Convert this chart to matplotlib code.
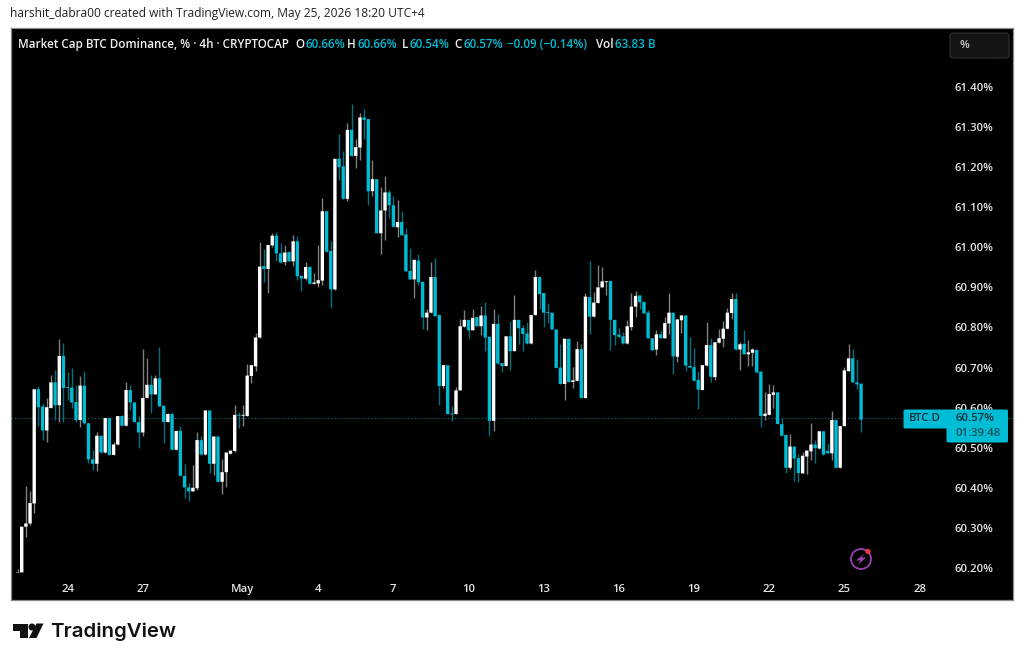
import numpy as np
import matplotlib
matplotlib.use("Agg")
import matplotlib.pyplot as plt
from matplotlib.patches import Rectangle, FancyBboxPatch, Circle, Polygon
from matplotlib.transforms import Affine2D

opens = [60.189,
 60.189,60.303,60.311,60.361,60.646,60.603,60.543,60.599,60.663,60.606,
 60.729,60.651,60.650,60.614,60.569,60.655,60.561,60.471,60.460,60.530,
 60.488,60.574,60.482,60.508,60.579,60.555,60.644,60.613,60.564,60.538,
 60.624,60.657,60.633,60.673,60.605,60.564,60.584,60.495,60.542,60.430,
 60.401,60.391,60.399,60.519,60.483,60.593,60.460,60.528,60.415,60.439,
 60.485,60.492,60.582,60.580,60.579,60.679,60.703,60.775,60.953,60.946,
 61.005,61.029,60.985,60.963,60.988,60.965,61.015,60.929,60.922,60.951,
 60.909,60.910,60.917,61.090,60.991,60.895,61.221,61.202,61.121,61.293,
 61.228,61.249,61.324,61.320,61.140,61.170,61.035,61.092,61.137,61.105,
 61.050,61.063,61.032,60.941,60.920,60.967,60.914,60.825,60.837,60.926,
 60.831,60.654,60.706,60.585,60.584,60.643,60.802,60.819,60.793,60.826,
 60.803,60.830,60.777,60.567,60.809,60.711,60.704,60.778,60.741,60.819,
 60.799,60.785,60.760,60.831,60.926,60.886,60.838,60.837,60.795,60.700,
 60.659,60.772,60.664,60.667,60.746,60.624,60.876,60.827,60.861,60.900,
 60.913,60.916,60.819,60.782,60.778,60.760,60.801,60.852,60.880,60.864,
 60.837,60.773,60.745,60.783,60.773,60.810,60.837,60.727,60.818,60.830,
 60.704,60.701,60.669,60.644,60.705,60.756,60.676,60.762,60.772,60.797,
 60.836,60.871,60.745,60.759,60.733,60.737,60.744,60.690,60.579,60.582,
 60.632,60.638,60.559,60.532,60.450,60.503,60.474,60.436,60.478,60.491,
 60.508,60.498,60.541,60.492,60.486,60.569,60.450,60.554,60.691,60.723,
 60.663,60.66]
highs = [60.197,
 60.303,60.405,60.391,60.646,60.653,60.611,60.623,60.682,60.694,60.771,
 60.761,60.690,60.698,60.657,60.679,60.692,60.561,60.495,60.538,60.530,
 60.574,60.574,60.515,60.579,60.582,60.664,60.657,60.613,60.578,60.746,
 60.725,60.682,60.682,60.752,60.605,60.586,60.590,60.542,60.553,60.459,
 60.411,60.457,60.540,60.528,60.593,60.593,60.528,60.528,60.471,60.488,
 60.493,60.607,60.590,60.607,60.708,60.706,60.787,61.014,60.995,61.006,
 61.035,61.039,61.011,61.005,60.991,61.030,61.029,60.929,60.963,60.953,
 60.937,61.005,61.124,61.090,61.016,61.221,61.282,61.241,61.311,61.357,
 61.270,61.336,61.344,61.320,61.218,61.170,61.150,61.178,61.143,61.128,
 61.118,61.091,61.047,60.999,60.969,60.983,60.914,60.846,60.963,60.974,
 60.833,60.706,60.706,60.604,60.652,60.822,60.843,60.819,60.845,60.826,
 60.854,60.864,60.777,60.847,60.833,60.711,60.778,60.817,60.881,60.819,
 60.806,60.814,60.831,60.943,60.926,60.886,60.860,60.837,60.795,60.758,
 60.772,60.772,60.702,60.766,60.760,60.885,60.966,60.889,60.956,60.950,
 60.915,60.916,60.819,60.798,60.789,60.818,60.885,60.892,60.880,60.864,
 60.843,60.773,60.793,60.793,60.827,60.887,60.837,60.820,60.830,60.830,
 60.777,60.750,60.692,60.706,60.813,60.775,60.763,60.797,60.815,60.848,
 60.887,60.885,60.764,60.794,60.769,60.750,60.744,60.690,60.639,60.658,
 60.657,60.638,60.574,60.532,60.534,60.503,60.484,60.490,60.493,60.561,
 60.519,60.541,60.541,60.513,60.592,60.569,60.554,60.702,60.759,60.747,
 60.721,60.66]
lows = [60.189,
 60.189,60.278,60.307,60.336,60.553,60.519,60.515,60.598,60.569,60.565,
 60.565,60.619,60.600,60.565,60.551,60.559,60.461,60.445,60.442,60.488,
 60.488,60.482,60.482,60.508,60.555,60.555,60.593,60.564,60.499,60.529,
 60.624,60.586,60.633,60.603,60.511,60.564,60.495,60.495,60.430,60.374,
 60.366,60.391,60.395,60.483,60.483,60.436,60.432,60.415,60.384,60.401,
 60.485,60.489,60.550,60.554,60.579,60.662,60.691,60.775,60.914,60.887,
 61.000,60.966,60.962,60.956,60.965,60.953,60.918,60.890,60.918,60.909,
 60.909,60.902,60.907,60.989,60.849,60.893,61.168,61.121,61.115,61.228,
 61.199,61.218,61.270,61.105,61.128,61.035,60.983,61.018,61.072,61.051,
 61.026,61.030,60.940,60.920,60.874,60.905,60.797,60.793,60.837,60.828,
 60.606,60.648,60.584,60.567,60.584,60.643,60.802,60.775,60.793,60.803,
 60.781,60.741,60.529,60.542,60.710,60.689,60.704,60.694,60.741,60.760,
 60.741,60.760,60.760,60.831,60.847,60.802,60.810,60.795,60.699,60.659,
 60.620,60.664,60.649,60.667,60.624,60.624,60.783,60.827,60.861,60.900,
 60.881,60.743,60.756,60.775,60.760,60.760,60.793,60.827,60.845,60.835,
 60.773,60.743,60.731,60.773,60.773,60.783,60.683,60.714,60.787,60.692,
 60.700,60.667,60.597,60.644,60.705,60.664,60.670,60.762,60.752,60.797,
 60.822,60.745,60.693,60.733,60.705,60.704,60.686,60.551,60.569,60.582,
 60.600,60.559,60.530,60.438,60.446,60.416,60.414,60.436,60.435,60.470,
 60.461,60.498,60.483,60.486,60.470,60.450,60.450,60.554,60.691,60.663,
 60.647,60.54]
closes = [60.190,
 60.303,60.311,60.362,60.646,60.601,60.543,60.601,60.663,60.606,60.729,
 60.649,60.649,60.613,60.569,60.655,60.561,60.471,60.460,60.530,60.488,
 60.574,60.482,60.508,60.579,60.555,60.644,60.613,60.564,60.538,60.624,
 60.657,60.633,60.673,60.603,60.564,60.584,60.495,60.542,60.430,60.401,
 60.391,60.400,60.519,60.483,60.593,60.460,60.528,60.415,60.439,60.488,
 60.493,60.582,60.580,60.582,60.680,60.706,60.775,60.952,60.946,61.006,
 61.029,60.985,60.962,60.987,60.965,61.015,60.928,60.922,60.951,60.909,
 60.912,60.918,61.090,60.989,60.895,61.221,61.200,61.121,61.293,61.228,
 61.250,61.324,61.318,61.140,61.170,61.035,61.092,61.137,61.105,61.051,
 61.063,61.030,60.940,60.920,60.969,60.913,60.825,60.837,60.926,60.828,
 60.654,60.706,60.584,60.583,60.643,60.803,60.819,60.793,60.824,60.803,
 60.830,60.775,60.567,60.809,60.710,60.704,60.778,60.741,60.819,60.798,
 60.784,60.760,60.831,60.926,60.883,60.837,60.836,60.795,60.699,60.659,
 60.772,60.664,60.668,60.746,60.624,60.877,60.827,60.862,60.900,60.915,
 60.915,60.819,60.781,60.777,60.760,60.803,60.852,60.879,60.863,60.835,
 60.773,60.743,60.783,60.773,60.811,60.837,60.728,60.820,60.830,60.705,
 60.700,60.667,60.645,60.706,60.756,60.677,60.763,60.773,60.797,60.837,
 60.871,60.745,60.758,60.733,60.738,60.745,60.688,60.579,60.585,60.634,
 60.638,60.559,60.530,60.450,60.503,60.473,60.437,60.480,60.493,60.508,
 60.499,60.541,60.483,60.486,60.569,60.450,60.554,60.693,60.723,60.663,
 60.658,60.57]

date_ticks = [12, 30, 54, 72, 90, 108, 126, 144, 162, 180, 198, 216]
date_labels = ["24", "27", "May", "4", "7", "10", "13", "16", "19", "22", "25", "28"]
price_ticks = [60.2, 60.3, 60.4, 60.5, 60.6, 60.7, 60.8, 60.9, 61.0, 61.1, 61.2, 61.3, 61.4]
price_labels = [f"{p:.2f}%" for p in price_ticks]
last_price = 60.573

W, H = 1024, 663
TEAL = "#00bcd4"
FONT = "Open Sans"
plt.rcParams["font.family"] = [FONT, "DejaVu Sans"]

fig = plt.figure(figsize=(W / 100, H / 100), dpi=100, facecolor="white")
L, R, T, B = 11, 1013, 28, 600
ax = fig.add_axes([L / W, 1 - B / H, (R - L) / W, (B - T) / H], facecolor="black")
for s in ax.spines.values():
    s.set_color("#8a8a8a")
    s.set_linewidth(0.9)

o, h, l, c = map(np.array, (opens, highs, lows, closes))
x = np.arange(len(o))
up = c >= o
ax.vlines(x[up], l[up], h[up], color="#808080", lw=1.0, zorder=2)
ax.vlines(x[~up], l[~up], h[~up], color="#00727f", lw=1.0, zorder=2)
for bars in (
    ax.bar(x[up], (c - o)[up], bottom=o[up], width=0.8, color="white", linewidth=0, zorder=3),
    ax.bar(x[~up], (c - o)[~up], bottom=o[~up], width=0.8, color=TEAL, linewidth=0, zorder=3),
):
    for b in bars:
        b.set_snap(False)
ax.axhline(last_price, color="#00727f", lw=0.8, ls=(0, (1, 2)), zorder=1)

dx = 4.176
ax.set_xlim((L - 17.5) / dx, (R - 17.5) / dx)
ax.set_ylim(61.40 - (B - 87) / 400.8, 61.40 + (87 - T) / 400.8)

ax.set_xticks(date_ticks, date_labels)
ax.tick_params(axis="x", length=0, pad=-11.5, labelcolor="#e4e4e4", labelsize=8.2)
ax.yaxis.tick_right()
ax.set_yticks(price_ticks, price_labels)
ax.tick_params(axis="y", length=0, pad=-42.2, labelcolor="#e4e4e4", labelsize=8.2)
for t in ax.get_xticklabels() + ax.get_yticklabels():
    t.set_fontweight(600)


def fx(px):
    return px / W


def fy(py):
    return 1 - py / H


px_tf = Affine2D().scale(1, -1).translate(0, H) + Affine2D().scale(1 / W, 1 / H) + fig.transFigure


def label(px, py, s, color="white", size=8.4, weight=600, ha="left"):
    return fig.text(fx(px), fy(py), s, color=color, fontsize=size, fontweight=weight, ha=ha, va="center", zorder=20)


label(10, 13.5, "harshit_dabra00 created with TradingView.com, May 25, 2026 18:20 UTC+4", "#222222", 8.63, 500)

label(18, 44.5, "Market Cap BTC Dominance, % · 4h · CRYPTOCAP", "#f0f0f0")
for px, s, col in [
    (295, "O", "#f0f0f0"), (305, "60.66%", TEAL),
    (347, "H", "#f0f0f0"), (357, "60.66%", TEAL),
    (402, "L", "#f0f0f0"), (410, "60.54%", TEAL),
    (454, "C", "#f0f0f0"), (463, "60.57%", TEAL),
    (507, "−0.09 (−0.14%)", TEAL),
    (596, "Vol", "#f0f0f0"), (615, "63.83 B", TEAL),
]:
    label(px, 44.5, s, col)

# percent box
fig.add_artist(FancyBboxPatch((950, 33), 59, 25, boxstyle="round,pad=0,rounding_size=3",
                              transform=px_tf, fc="#131517", ec="#2e3236", lw=0.8, zorder=15))
label(959, 45, "%", "#c8c8c8", 8.2)

# price badges
fig.add_artist(FancyBboxPatch((903.5, 409.5), 44, 19, boxstyle="round,pad=0,rounding_size=1.5",
                              transform=px_tf, fc=TEAL, ec="none", zorder=15))
fig.add_artist(FancyBboxPatch((946.5, 409.5), 61.5, 33, boxstyle="round,pad=0,rounding_size=1.5",
                              transform=px_tf, fc=TEAL, ec="none", zorder=15))
label(925, 418.5, "BTC.D", "#0a2f37", 8.2, 600, "center")
label(955, 418.5, "60.57%", "#0a2f37", 8.2, 600)
label(955, 434, "01:39:48", "#17505c", 8.2, 600)

# lightning icon
PURPLE = "#9b3fb5"
fig.add_artist(Circle((861, 559), 10, transform=px_tf, fc="none", ec=PURPLE, lw=1.3, zorder=15))
fig.add_artist(Polygon([(864.5, 553.5), (856, 560.5), (860.5, 560.5), (858, 565), (866, 557.5), (861.5, 557.5)],
                       closed=True, transform=px_tf, fc=PURPLE, ec="none", zorder=15))
fig.add_artist(Circle((868, 551.5), 2.6, transform=px_tf, fc="#f23645", ec="none", zorder=16))

# TradingView logo
INK = "#111111"
fig.add_artist(Polygon([(12.5, 623.5), (27.5, 623.5), (27.5, 638), (20, 638), (20, 630.5), (12.5, 630.5)],
                       closed=True, transform=px_tf, fc=INK, ec="none"))
fig.add_artist(Circle((32, 627), 3.5, transform=px_tf, fc=INK, ec="none"))
fig.add_artist(Polygon([(36.5, 623.5), (43.5, 623.5), (36.5, 638), (29, 638)],
                       closed=True, transform=px_tf, fc=INK, ec="none"))
label(50, 632, "TradingView", INK, 14.7, 600).set_family(["Inter", "DejaVu Sans"])

fig.savefig("out.png", dpi=100, facecolor="white")
